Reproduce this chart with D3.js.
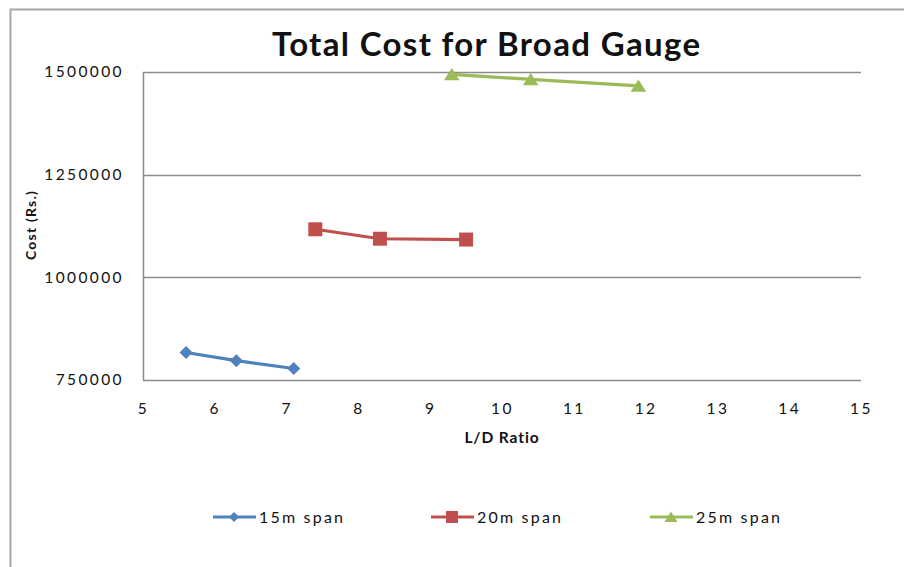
<!DOCTYPE html>
<html><head><meta charset="utf-8">
<script src="https://cdn.jsdelivr.net/npm/d3@7"></script>
<style>
html,body{margin:0;padding:0;background:#fff;}
svg{display:block;}
text{font-family:Lato,"Open Sans",sans-serif;fill:#111;}
</style></head>
<body>
<svg id="c" width="904" height="567"></svg>
<script>
const title = "Total Cost for Broad Gauge";
const xTicks = [5,6,7,8,9,10,11,12,13,14,15];
const yTicks = [750000,1000000,1250000,1500000];
const seriesNames = ["15m span","20m span","25m span"];
const colors = ["#4F81BD","#C0504D","#9BBB59"];
const ld15 = [5.6, 6.3, 7.1];
const cost15 = [817000, 797000, 778000];
const ld20 = [7.4, 8.3, 9.5];
const cost20 = [1117000, 1094000, 1092000];
const ld25 = [9.3, 10.4, 11.9];
const cost25 = [1494000, 1482000, 1466000];

const series = [
  {name: seriesNames[0], color: colors[0], shape: "diamond", pts: ld15.map((x,i)=>({x, y: cost15[i]}))},
  {name: seriesNames[1], color: colors[1], shape: "square", pts: ld20.map((x,i)=>({x, y: cost20[i]}))},
  {name: seriesNames[2], color: colors[2], shape: "triangle", pts: ld25.map((x,i)=>({x, y: cost25[i]}))}
];

const svg = d3.select("#c");
svg.append("rect").attr("x",10.5).attr("y",9.5).attr("width",1000).attr("height",1000)
  .attr("fill","none").attr("stroke","#a6a6a6").attr("stroke-width",2);

const x = d3.scaleLinear().domain([5,15]).range([143,861]);
const y = d3.scaleLinear().domain([750000,1500000]).range([380,72]);

// gridlines
svg.append("g").selectAll("line").data(yTicks).join("line")
  .attr("x1",x(5)).attr("x2",x(15))
  .attr("y1",d=>Math.round(y(d))+0.5).attr("y2",d=>Math.round(y(d))+0.5)
  .attr("stroke","#8c8c8c").attr("stroke-width",1.5);
svg.append("line").attr("x1",Math.round(x(5))+0.5).attr("x2",Math.round(x(5))+0.5)
  .attr("y1",y(1500000)).attr("y2",y(750000)).attr("stroke","#8c8c8c").attr("stroke-width",1.5);

// y tick labels
const yAxis = d3.axisLeft(y).tickValues(yTicks).tickFormat(d3.format("d")).tickSize(0).tickPadding(19);
const gy = svg.append("g").attr("transform",`translate(${x(5)},0)`).call(yAxis);
gy.select(".domain").remove();
gy.selectAll("text").attr("font-family","Lato, sans-serif").attr("font-size",15.5)
  .attr("letter-spacing","2.4px").attr("fill","#111");

// x tick labels
const xAxis = d3.axisBottom(x).tickValues(xTicks).tickFormat(d3.format("d")).tickSize(0).tickPadding(23);
const gx = svg.append("g").attr("transform",`translate(0,${y(750000)})`).call(xAxis);
gx.select(".domain").remove();
gx.selectAll("text").attr("font-family","Lato, sans-serif").attr("font-size",15.5)
  .attr("letter-spacing","2.4px").attr("fill","#111");

// title
svg.append("text").attr("x",486).attr("y",56).attr("text-anchor","middle")
  .attr("font-size",33).attr("font-weight","bold")
  .attr("textLength",428).attr("lengthAdjust","spacing").text(title);

// axis titles
svg.append("text").attr("x",502).attr("y",443).attr("text-anchor","middle")
  .attr("font-size",15.5).attr("font-weight","bold").attr("letter-spacing","0.9px").text("L/D Ratio");
svg.append("text").attr("transform","translate(36,225) rotate(-90)").attr("text-anchor","middle")
  .attr("font-size",14).attr("font-weight","bold").attr("letter-spacing","1.2px").text("Cost (Rs.)");

function markerPath(shape, s){
  if(shape==="diamond") return `M0,${-s/2}L${s/2},0L0,${s/2}L${-s/2},0Z`;
  if(shape==="square") return `M${-s/2},${-s/2}H${s/2}V${s/2}H${-s/2}Z`;
  return `M0,${-s*0.5}L${s*0.6},${s*0.45}L${-s*0.6},${s*0.45}Z`;
}
const sizes = {diamond:13, square:14, triangle:13};

const line = d3.line().x(d=>x(d.x)).y(d=>y(d.y));
series.forEach(s=>{
  svg.append("path").datum(s.pts).attr("d",line).attr("fill","none")
    .attr("stroke",s.color).attr("stroke-width",3.2).attr("stroke-linejoin","round");
  svg.append("g").selectAll("path").data(s.pts).join("path")
    .attr("transform",d=>`translate(${x(d.x)},${y(d.y)})`)
    .attr("d",markerPath(s.shape,sizes[s.shape])).attr("fill",s.color);
});

// legend
const legX = [213, 431, 650];
const legY = 517;
const lg = svg.append("g").selectAll("g").data(series).join("g")
  .attr("transform",(d,i)=>`translate(${legX[i]},${legY})`);
lg.append("line").attr("x1",0).attr("x2",43).attr("y1",0).attr("y2",0)
  .attr("stroke",d=>d.color).attr("stroke-width",3.2);
lg.append("path").attr("transform","translate(21,0)")
  .attr("d",d=>markerPath(d.shape, d.shape==="diamond"?10:(d.shape==="square"?12:11))).attr("fill",d=>d.color);
lg.append("text").attr("x",46).attr("y",0).attr("dy","0.36em")
  .attr("font-size",16).attr("letter-spacing","2.2px").text(d=>d.name);
</script>
</body></html>
